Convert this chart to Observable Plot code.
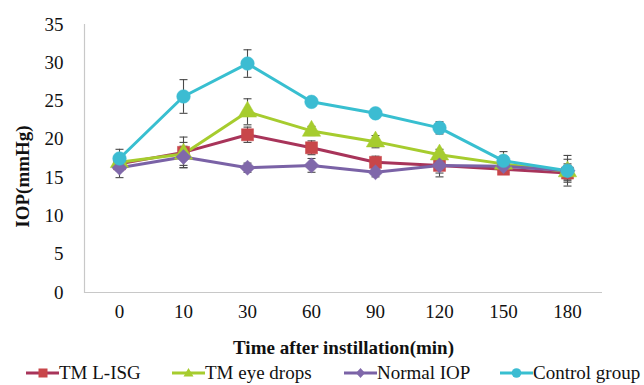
<!DOCTYPE html>
<html>
<head>
<meta charset="utf-8">
<script src="https://cdn.jsdelivr.net/npm/d3@7"></script>
<script src="https://cdn.jsdelivr.net/npm/@observablehq/plot@0.6"></script>
<style>
  html, body { margin: 0; padding: 0; background: #fff; }
  #chart { width: 644px; height: 385px; position: relative; font-family: "Liberation Serif", "Times New Roman", serif; overflow: hidden; }
  #chart svg text { font-family: "Liberation Serif", "Times New Roman", serif; }
  #legend { position: absolute; left: 0; top: 362px; width: 644px; height: 22px; font-size: 19px; color: #111; }
  .item { position: absolute; top: 0; display: flex; align-items: center; white-space: nowrap; line-height: 22px; }
  .item svg { display: block; }
</style>
</head>
<body>
<div id="chart"></div>
<script>
const times = ["0", "10", "30", "60", "90", "120", "150", "180"];
const seriesNames = ["TM L-ISG", "TM eye drops", "Normal IOP", "Control group"];
const lineColors = ["#a8345a", "#a6cc2e", "#7a62a6", "#38bfd0"];
const markerColors = ["#c8464a", "#a6cc2e", "#8068aa", "#3cbcd2"];
const markerSymbols = ["square", "triangle", "diamond2", "circle"];

const lisg      = [16.8, 18.3, 20.6, 18.9, 17.0, 16.6, 16.1, 15.6];
const lisgErr   = [0.9, 2.0, 1.0, 0.9, 0.8, 1.0, 0.6, 1.0];
const drops     = [17.0, 18.1, 23.6, 21.1, 19.7, 18.0, 16.8, 15.8];
const dropsErr  = [0.8, 1.5, 1.7, 0.6, 0.8, 0.7, 1.0, 1.0];
const normal    = [16.3, 17.7, 16.3, 16.6, 15.7, 16.6, 16.5, 15.9];
const normalErr = [1.3, 1.4, 0.6, 0.9, 0.6, 1.5, 0.7, 2.0];
const control   = [17.5, 25.6, 29.9, 24.9, 23.4, 21.5, 17.2, 15.9];
const controlErr= [1.2, 2.2, 1.8, 0.3, 0.3, 0.8, 1.2, 1.5];

const yTicks = [0, 5, 10, 15, 20, 25, 30, 35];
const xTitle = "Time after instillation(min)";
const yTitle = "IOP(mmHg)";

const valueSets = [lisg, drops, normal, control];
const errSets = [lisgErr, dropsErr, normalErr, controlErr];
const data = [];
seriesNames.forEach((s, i) => {
  times.forEach((t, j) => {
    data.push({series: s, time: t, value: valueSets[i][j], err: errSets[i][j]});
  });
});

const capSymbol = {
  draw(context, size) {
    const w = 4;
    context.moveTo(-w, 0);
    context.lineTo(w, 0);
  }
};

const plot = Plot.plot({
  width: 644,
  height: 362,
  marginLeft: 84,
  marginRight: 42,
  marginTop: 24,
  marginBottom: 70,
  style: {fontFamily: "'Liberation Serif', 'Times New Roman', serif", fontSize: "19px", color: "#111", background: "#fff"},
  x: {type: "point", domain: times, padding: 0.5},
  y: {domain: [0, 35]},
  color: {domain: seriesNames, range: lineColors},
  symbol: {domain: seriesNames, range: markerSymbols},
  marks: [
    Plot.ruleY([0], {stroke: "#c8c8c8", strokeWidth: 1.2}),
    Plot.frame({anchor: "left", stroke: "#c8c8c8", strokeWidth: 1.2}),
    Plot.axisY({ticks: yTicks, tickSize: 0, tickPadding: 21, label: null, fontSize: 19}),
    Plot.axisX({tickSize: 0, tickPadding: 12, label: xTitle, labelAnchor: "center", labelArrow: "none", labelOffset: 61, fontSize: 19}),
    Plot.text([yTitle], {frameAnchor: "left", textAnchor: "middle", rotate: -90, dx: -62, dy: 18, fontSize: 19, fontWeight: "bold", fill: "#111"}),
    Plot.ruleX(data, {x: "time", y1: d => d.value - d.err, y2: d => d.value + d.err, stroke: "#4a4a4a", strokeWidth: 1.1}),
    Plot.dot(data, {x: "time", y: d => d.value + d.err, symbol: () => capSymbol, stroke: "#4a4a4a", strokeWidth: 1.1, fill: "none"}),
    Plot.dot(data, {x: "time", y: d => d.value - d.err, symbol: () => capSymbol, stroke: "#4a4a4a", strokeWidth: 1.1, fill: "none"}),
    Plot.line(data, {x: "time", y: "value", z: "series", stroke: "series", strokeWidth: 3}),
    Plot.dot(data, {x: "time", y: "value", symbol: "series", r: 6.8, fill: d => markerColors[seriesNames.indexOf(d.series)], stroke: d => markerColors[seriesNames.indexOf(d.series)], strokeWidth: 0.5})
  ]
});

plot.querySelectorAll("g[aria-label='x-axis label'] text").forEach(t => t.setAttribute("font-weight", "bold"));

const chart = document.getElementById("chart");
chart.appendChild(plot);

const legend = document.createElement("div");
legend.id = "legend";
const lefts = [26, 172, 344, 500];
const shapes = [
  c => `<rect x="12.5" y="6.5" width="9" height="9" fill="${c}"/>`,
  c => `<path d="M16.5 6 L21.5 14.5 L11.5 14.5 Z" fill="${c}"/>`,
  c => `<path d="M16.5 6 L21 11 L16.5 16 L12 11 Z" fill="${c}"/>`,
  c => `<circle cx="16.5" cy="11" r="4.8" fill="${c}"/>`
];
seriesNames.forEach((s, i) => {
  const it = document.createElement("div");
  it.className = "item";
  it.style.left = lefts[i] + "px";
  it.innerHTML = `<svg width="33" height="22"><line x1="0" x2="33" y1="11" y2="11" stroke="${lineColors[i]}" stroke-width="3"/>${shapes[i](markerColors[i])}</svg><span>${s}</span>`;
  legend.appendChild(it);
});
chart.appendChild(legend);
</script>
</body>
</html>
